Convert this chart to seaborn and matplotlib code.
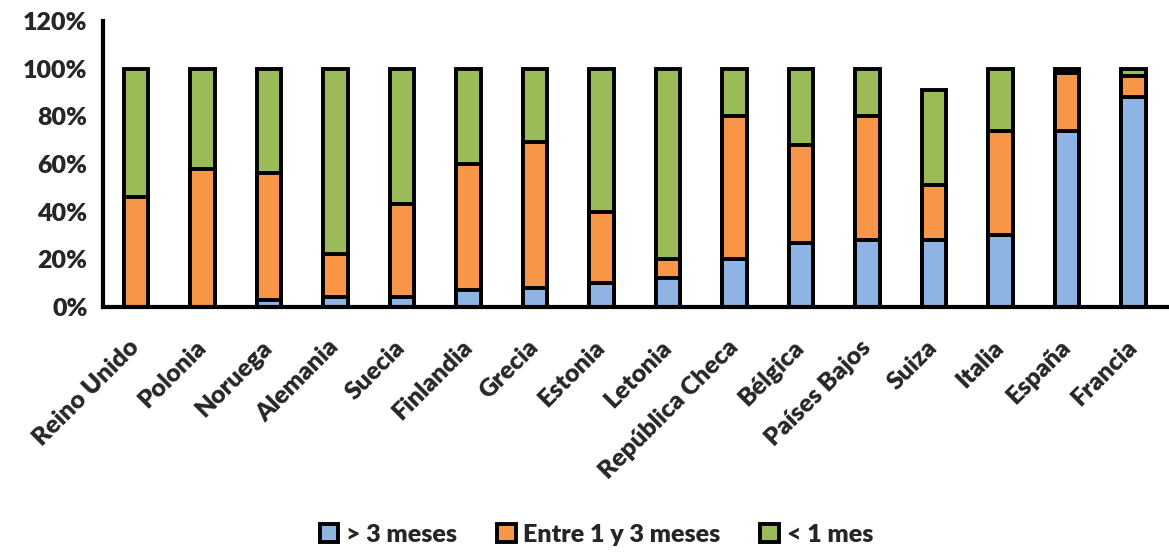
import matplotlib
matplotlib.use("Agg")
import matplotlib.pyplot as plt
from matplotlib.patches import Patch
from matplotlib.ticker import FuncFormatter
import numpy as np
import pandas as pd
import seaborn as sns

# Share of cases by duration, per country (percent)
countries = ["Reino Unido", "Polonia", "Noruega", "Alemania", "Suecia", "Finlandia",
             "Grecia", "Estonia", "Letonia", "República Checa", "Bélgica",
             "Países Bajos", "Suiza", "Italia", "España", "Francia"]
mas_3_meses = [0, 0, 3, 4, 4, 7, 8, 10, 12, 20, 27, 28, 28, 30, 74, 88]
entre_1_y_3 = [46, 58, 53, 18, 39, 53, 61, 30, 8, 60, 41, 52, 23, 44, 24, 9]
menos_1_mes = [54, 42, 44, 78, 57, 40, 31, 60, 80, 20, 32, 20, 40, 26, 2, 3]

series_names = ["> 3 meses", "Entre 1 y 3 meses", "< 1 mes"]
series_colors = ["#8EB4E3", "#F79646", "#9BBB59"]

sns.set_theme(style="white")
plt.rcParams["font.family"] = ["Lato", "DejaVu Sans"]
WEIGHT = "heavy"
FS = 18

df = pd.DataFrame({
    "pais": countries,
    "s1": mas_3_meses,
    "s2": entre_1_y_3,
    "s3": menos_1_mes,
})
# cumulative heights for layered stacking
df["c1"] = df["s1"]
df["c2"] = df["s1"] + df["s2"]
df["c3"] = df["s1"] + df["s2"] + df["s3"]

fig = plt.figure(figsize=(11.69, 5.52), dpi=100)
ax = fig.add_axes([0.088, 0.444, 0.910, 0.518])

bar_kw = dict(width=0.37, edgecolor="black", linewidth=2.8, saturation=1, ax=ax)
for col, color in zip(["c3", "c2", "c1"], series_colors[::-1]):
    sns.barplot(data=df, x="pais", y=col, color=color, **bar_kw)

ax.set_xlim(-0.5, len(countries) - 0.5)
ax.set_ylim(0, 120)
ax.set_yticks(np.arange(0, 121, 20))
ax.yaxis.set_major_formatter(FuncFormatter(lambda v, p: f"{int(v)}%"))
ax.set_xlabel("")
ax.set_ylabel("")

# tick marks sit at category boundaries; labels hang from just left of each bar centre
ax.set_xticks(np.arange(-0.5, len(countries), 1.0), minor=False)
ax.set_xticklabels([])
ax.set_xticks(np.arange(len(countries)) - 0.12, minor=True)
ax.set_xticklabels(countries, minor=True, rotation=45, ha="right",
                   rotation_mode="anchor", fontsize=FS, fontweight=WEIGHT)
ax.tick_params(axis="x", which="major", direction="out", length=9, width=3, color="black")
ax.tick_params(axis="x", which="minor", length=0, pad=21)
ax.tick_params(axis="y", direction="out", length=7, width=3, color="black",
               labelsize=FS, pad=4)
for lbl in ax.get_yticklabels():
    lbl.set_fontweight(WEIGHT)

for side in ["top", "right"]:
    ax.spines[side].set_visible(False)
for side in ["left", "bottom"]:
    ax.spines[side].set_color("black")
    ax.spines[side].set_linewidth(3)
ax.grid(False)

handles = [Patch(facecolor=c, edgecolor="black", linewidth=2.8) for c in series_colors]
fig.legend(handles, series_names, loc="center", bbox_to_anchor=(0.51, 0.031),
           ncol=3, frameon=False, prop={"size": FS, "weight": WEIGHT},
           handlelength=0.75, handleheight=0.75, handletextpad=0.3, columnspacing=1.6)

fig.savefig("out.png", dpi=100)
